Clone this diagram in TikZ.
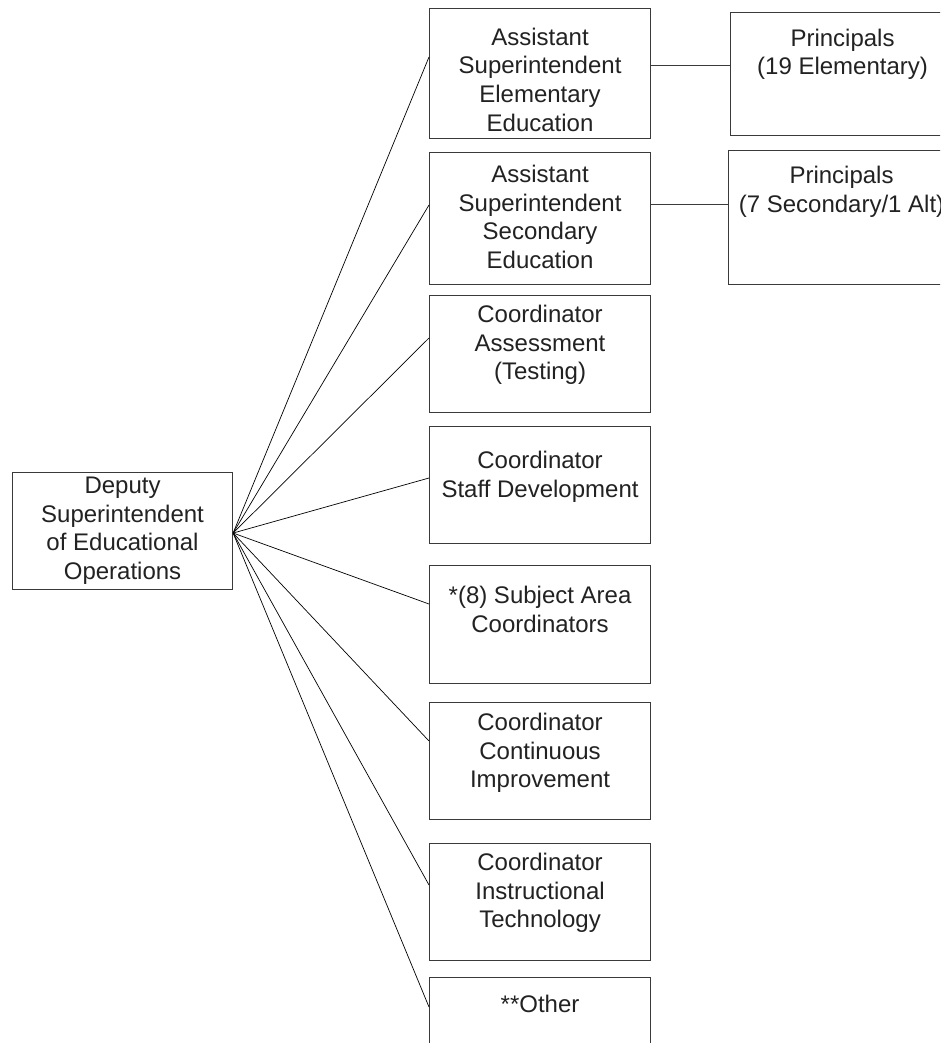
\documentclass[tikz,border=0pt]{standalone}
\usepackage{fontspec}
\setmainfont{Liberation Sans}
\definecolor{boxc}{HTML}{3A3A3A}
\definecolor{txtc}{HTML}{222222}
\begin{document}
\begin{tikzpicture}[x=1pt,y=-1pt,
  box/.style={draw=boxc, line width=1.1pt, minimum width=221pt, inner sep=0pt, anchor=north west},
  lbl/.style={inner sep=0pt, anchor=north, align=center, text=txtc, font=\fontsize{24}{28.8}\selectfont},
  conn/.style={draw=black, line width=0.7pt}]
\useasboundingbox (0,0) rectangle (940,1043);
\clip (0,0) rectangle (940,1043);
\fill[white] (0,0) rectangle (940,1043);

% boxes
\node[box, minimum width=220pt, minimum height=117pt] (dep) at (12,472) {};
\node[box, minimum height=130pt] (b1) at (429,8) {};
\node[box, minimum height=132pt] (b2) at (429,152) {};
\node[box, minimum height=117pt] (b3) at (429,295) {};
\node[box, minimum height=117pt] (b4) at (429,426) {};
\node[box, minimum height=118pt] (b5) at (429,565) {};
\node[box, minimum height=117pt] (b6) at (429,702) {};
\node[box, minimum height=117pt] (b7) at (429,843) {};
\node[box, minimum height=117pt] (b8) at (429,977) {};
\node[box, minimum width=224pt, minimum height=123pt] (p1) at (730,12) {};
\node[box, minimum width=226pt, minimum height=134pt] (p2) at (728,150) {};

% labels
\node[lbl] at ([yshift=-1pt]dep.north) {\rule{0pt}{20pt}Deputy\\Superintendent\\of Educational\\Operations};
\node[lbl] at ([yshift=-17pt]b1.north) {\rule{0pt}{20pt}Assistant\\Superintendent\\Elementary\\Education};
\node[lbl] at ([yshift=-10pt]b2.north) {\rule{0pt}{20pt}Assistant\\Superintendent\\Secondary\\Education};
\node[lbl] at ([yshift=-7pt]b3.north) {\rule{0pt}{20pt}Coordinator\\Assessment\\(Testing)};
\node[lbl] at ([yshift=-22pt]b4.north) {\rule{0pt}{20pt}Coordinator\\Staff Development};
\node[lbl] at ([yshift=-18pt]b5.north) {\rule{0pt}{20pt}*(8) Subject Area\\Coordinators};
\node[lbl] at ([yshift=-8pt]b6.north) {\rule{0pt}{20pt}Coordinator\\Continuous\\Improvement};
\node[lbl] at ([yshift=-7pt]b7.north) {\rule{0pt}{20pt}Coordinator\\Instructional\\Technology};
\node[lbl] at ([yshift=-15pt]b8.north) {\rule{0pt}{20pt}**Other};
\node[lbl] at ([yshift=-14pt]p1.north) {\rule{0pt}{20pt}Principals\\(19 Elementary)};
\node[lbl] at ([yshift=-13pt]p2.north) {\rule{0pt}{20pt}Principals\\(7 Secondary/1 Alt)};

% fan connectors
\coordinate (hub) at ([yshift=-2pt]dep.east);
\draw[conn] (hub) -- ([yshift=-49pt]b1.north west);
\draw[conn] (hub) -- ([yshift=-53pt]b2.north west);
\draw[conn] (hub) -- ([yshift=-43pt]b3.north west);
\draw[conn] (hub) -- ([yshift=-52pt]b4.north west);
\draw[conn] (hub) -- ([yshift=-39pt]b5.north west);
\draw[conn] (hub) -- ([yshift=-39pt]b6.north west);
\draw[conn] (hub) -- ([yshift=-42pt]b7.north west);
\draw[conn] (hub) -- ([yshift=-30pt]b8.north west);

% principals connectors
\coordinate (c1) at ([yshift=-58pt]b1.north east);
\coordinate (c2) at ([yshift=-52pt]b2.north east);
\draw[conn, draw=boxc, line width=1pt] (c1) -- (c1 -| p1.west);
\draw[conn, draw=boxc, line width=1pt] (c2) -- (c2 -| p2.west);
\end{tikzpicture}
\end{document}
